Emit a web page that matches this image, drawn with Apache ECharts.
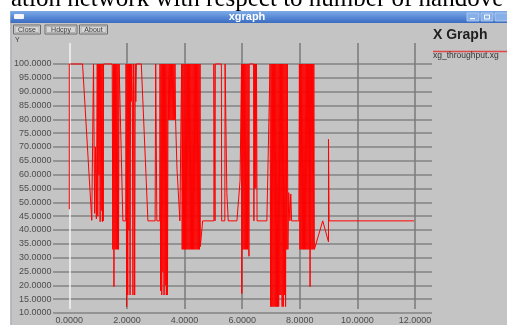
<!DOCTYPE html>
<html><head><meta charset="utf-8">
<script src="https://cdn.jsdelivr.net/npm/echarts@6/dist/echarts.min.js"></script>
<style>html,body{margin:0;padding:0;background:#fff}#c{width:507px;height:325px}</style>
</head><body><div id="c"></div>
<script>
// Throughput trace (time, throughput)
const seg0to2 = [[0.00,47.5],[0.00,100],[0.46,100],[0.78,43.5],[0.81,72],[0.84,100],[0.88,46],[0.91,70],[0.94,44],
 [0.97,100],[0.99,45],[1.01,100],[1.03,60],[1.05,100],[1.07,43],[1.09,100],[1.11,47],[1.13,100],[1.15,43],[1.17,100],[1.18,43.3],[1.19,100],
 [1.49,100],[1.51,33],[1.53,100],[1.55,19.5],[1.57,100],[1.59,33],[1.61,100],[1.63,33],[1.65,100],[1.67,33],[1.69,100],[1.71,33],[1.73,100],
 [1.77,100],[1.86,43.3],[1.96,43.3],
 [1.97,100],[1.99,12.3],[2.01,100],[2.03,16.5],[2.05,100],[2.07,40],[2.09,100],[2.11,16.5],[2.13,100]];
const seg2to4 = [[2.15,86.4],[2.17,100],[2.19,86.4],[2.21,16.5],[2.23,100],[2.25,86.4],[2.27,16.5],[2.29,100],[2.31,86.4],[2.33,100],
 [2.50,100],[2.73,43.3],[2.98,43.3],[3.00,100],[3.04,43.3],[3.14,43.3],[3.15,100],
 [3.17,18],[3.19,100],[3.21,16.5],[3.23,100],[3.25,25],[3.27,100],[3.29,16.5],[3.31,100],[3.33,20],[3.35,100],[3.37,16.5],[3.39,100],[3.41,16.5],[3.43,100],[3.45,79.8],
 [3.47,100],[3.49,79.8],[3.51,100],[3.53,79.8],[3.55,100],[3.57,79.8],[3.59,100],[3.61,79.8],[3.63,100],[3.65,79.8],[3.67,100],[3.69,79.8],
 [3.74,62],[3.84,43.3],[3.88,43.3],
 [3.90,100],[3.92,33],[3.94,100],[3.96,33],[3.98,100]];
const seg4to6 = [[4.00,33],[4.02,100],[4.04,33],[4.06,100],[4.08,33],[4.10,100],[4.12,33],[4.14,100],[4.16,33],[4.18,100],[4.20,33],[4.22,100],[4.24,33],[4.26,100],[4.28,33],[4.30,100],[4.32,33],[4.34,100],[4.36,33],[4.38,100],[4.40,33],[4.42,100],[4.44,33],[4.46,100],[4.48,33],[4.50,100],[4.52,33],[4.54,100],[4.55,34],
 [4.63,43.3],[5.02,43.3],[5.02,100],[5.05,100],[5.06,43.3],[5.07,100],[5.28,100],[5.29,43.3],[5.40,43.3],[5.41,100],[5.46,100],[5.47,53.5],[5.51,53.5],[5.52,43.3],[5.82,43.3],[5.93,58],[5.98,100],
 [5.99,17]];
const seg6to8 = [[6.01,100],[6.03,33],[6.05,100],[6.07,33],[6.09,100],[6.11,33],[6.13,100],[6.15,33],[6.17,100],[6.19,33],[6.21,100],[6.23,33],[6.24,30.5],[6.25,100],
 [6.40,100],[6.41,43.3],[6.42,100],[6.44,55],[6.46,100],[6.48,55],[6.50,100],[6.52,43.3],[6.86,43.3],[6.97,100],
 [6.99,12.3],[7.01,100],[7.03,12.3],[7.05,100],[7.07,12.3],[7.09,100],[7.11,12.3],[7.13,100],[7.15,12.3],[7.17,100],[7.19,12.3],[7.21,100],[7.23,12.3],[7.25,100],[7.27,12.3],[7.29,100],[7.31,16.5],[7.33,100],[7.35,16.5],[7.37,100],[7.39,12.3],[7.41,100],[7.43,12.3],[7.45,100],[7.47,16.5],[7.49,100],[7.51,12.3],[7.53,100],[7.55,33],[7.57,100],[7.59,33],
 [7.62,53.5],[7.66,43.3],[7.69,53],[7.72,43.3],[7.97,43.3],[7.99,100]];
const seg8to12 = [[8.01,33],[8.03,100],[8.05,33],[8.07,100],[8.09,33],[8.11,100],[8.13,33],[8.15,100],[8.17,33],[8.19,100],[8.21,33],[8.23,100],[8.25,33],[8.27,100],[8.29,33],[8.31,100],[8.33,33],[8.35,100],[8.36,19.5],[8.37,100],[8.39,33],[8.41,100],[8.43,33],[8.45,100],[8.47,33],[8.49,100],[8.51,33],
 [8.80,43.3],[9.00,35.7],[9.00,72.8],[9.02,43.3],[11.97,43.3]];
const xTicks = {min: 0, max: 12, interval: 2};
const yTicks = {min: 10, max: 100, interval: 5};
const seriesName = 'xg_throughput.xg';

const trace = [].concat(seg0to2, seg2to4, seg4to6, seg6to8, seg8to12);
const chart = echarts.init(document.getElementById('c'), null, {renderer: 'canvas'});
const lab = {fontFamily: 'Liberation Sans', fontSize: 9, color: '#4d4d4d'};
const vColors = ['#f4f4f4', '#7a7a7a', '#7a7a7a', '#7a7a7a', '#7a7a7a', '#7a7a7a', '#7a7a7a'];
const txt = (x, y, text, font, fill, align) => ({type: 'text', x: x, y: y, z: 10,
  style: {text: text, font: font, fill: fill, textAlign: align || 'left', textVerticalAlign: 'middle', align: align || 'left', verticalAlign: 'middle'}});
const btn = (x, w, label) => [
  {type: 'rect', z: 10, shape: {x: x, y: 25, width: w, height: 9}, style: {fill: '#d6d6d6', stroke: '#6a6a6a', lineWidth: 1}},
  {type: 'rect', z: 10, shape: {x: x + 1.5, y: 26.5, width: w - 3, height: 6}, style: {fill: 'none', stroke: '#a8a8a8', lineWidth: 0.8}},
  txt(x + w / 2, 29.7, label, '7px "Liberation Sans"', '#3a3a3a', 'center')
];
chart.setOption({
  backgroundColor: '#c4c4c4',
  animation: false,
  grid: [
    {left: 53, top: 64, width: 379, height: 249},
    {left: 69.3, top: 43, width: 345.7, height: 275}
  ],
  xAxis: [
    {gridIndex: 0, type: 'value', min: -0.566, max: 12.594, show: false},
    {gridIndex: 1, type: 'value', min: xTicks.min, max: xTicks.max, interval: xTicks.interval,
     axisLine: {show: false}, axisTick: {show: false},
     axisLabel: Object.assign({margin: 7, formatter: v => v.toFixed(4)}, lab),
     splitLine: {show: true, lineStyle: {color: vColors, width: 1.5}}}
  ],
  yAxis: [
    {gridIndex: 0, type: 'value', min: yTicks.min, max: yTicks.max, interval: yTicks.interval,
     axisLine: {show: false}, axisTick: {show: false},
     axisLabel: Object.assign({margin: 1.5, formatter: v => v.toFixed(4)}, lab),
     splitLine: {show: true, lineStyle: {color: '#838383', width: 1.5}}},
    {gridIndex: 1, type: 'value', min: 0, max: 1, show: false, splitLine: {show: false}}
  ],
  series: [{
    name: seriesName, type: 'line', xAxisIndex: 0, yAxisIndex: 0, data: trace,
    showSymbol: false, clip: false, lineStyle: {color: '#ff0000', width: 1}, z: 5
  }],
  graphic: [
    {type: 'rect', z: 9, shape: {x: 0, y: 0, width: 507, height: 11}, style: {fill: '#ffffff'}},
    {type: 'rect', z: 9, shape: {x: 0, y: 0, width: 10.5, height: 325}, style: {fill: '#ffffff'}},
    {type: 'rect', z: 9, shape: {x: 10.5, y: 11, width: 0.8, height: 314}, style: {fill: '#8c96a8'}},
    txt(11, -0.6, 'ation network with respect to number of handove', '25px "Liberation Serif"', '#000000'),
    {type: 'rect', z: 10, shape: {x: 10.5, y: 11, width: 497, height: 12},
     style: {fill: new echarts.graphic.LinearGradient(0, 0, 0, 1, [{offset: 0, color: '#7eabe6'}, {offset: 0.5, color: '#5a8bd6'}, {offset: 1, color: '#3c6cc0'}])}},
    {type: 'rect', z: 10, shape: {x: 14, y: 14, width: 10, height: 5, r: 1}, style: {fill: '#f4f6fa'}},
    txt(247, 17, 'xgraph', 'bold 11px "Liberation Sans"', '#ffffff', 'center'),
    {type: 'rect', z: 10, shape: {x: 467, y: 13, width: 12, height: 8}, style: {fill: '#88b0e8', stroke: '#b8d0f2', lineWidth: 0.8}},
    {type: 'rect', z: 10, shape: {x: 470, y: 18, width: 5, height: 1.2}, style: {fill: '#ffffff'}},
    {type: 'rect', z: 10, shape: {x: 481, y: 13, width: 12, height: 8}, style: {fill: '#88b0e8', stroke: '#b8d0f2', lineWidth: 0.8}},
    {type: 'rect', z: 10, shape: {x: 484.5, y: 15, width: 5, height: 4}, style: {fill: 'none', stroke: '#ffffff', lineWidth: 1}},
    {type: 'rect', z: 10, shape: {x: 495, y: 13, width: 14, height: 8}, style: {fill: '#88b0e8', stroke: '#b8d0f2', lineWidth: 0.8}},
    ...btn(13.5, 27, 'Close'),
    ...btn(45, 32, 'Hdcpy'),
    ...btn(79.5, 28, 'About'),
    txt(15, 40, 'Y', '7px "Liberation Sans"', '#3a3a3a'),
    txt(433, 35, 'X Graph', 'bold 14px "Liberation Sans"', '#1e1e1e'),
    {type: 'line', z: 10, shape: {x1: 433, y1: 51.5, x2: 507, y2: 51.5}, style: {stroke: '#e04848', lineWidth: 1.5}},
    txt(433, 55.5, seriesName, '8.5px "Liberation Sans"', '#333333')
  ]
});
</script></body></html>
